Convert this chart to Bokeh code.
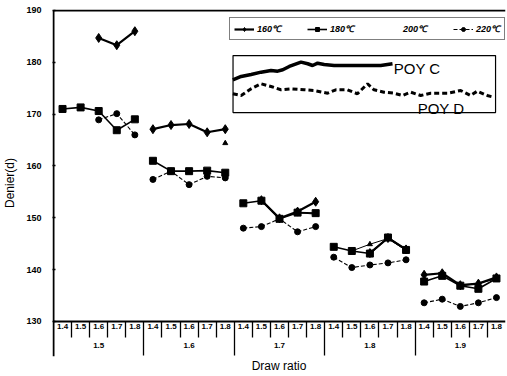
from bokeh.plotting import figure
from bokeh.models import Range1d, LinearAxis, FixedTicker, Legend, LegendItem
from bokeh.embed import file_html
from bokeh.resources import INLINE
from bokeh.core.properties import value

nan = float("nan")

# ---- data -------------------------------------------------------------
draw_ratio_main = ["1.5", "1.6", "1.7", "1.8", "1.9"]
draw_ratio_sub = ["1.4", "1.5", "1.6", "1.7", "1.8"]
y_ticks = [130, 140, 150, 160, 170, 180, 190]

denier_160 = [nan, nan, 184.7, 183.3, 186.0,
              167.1, 167.9, 168.1, 166.5, 167.1,
              nan, 153.4, 149.9, 151.2, 153.1,
              nan, nan, 143.2, 146.1, 143.9,
              139.0, 139.3, 137.0, 137.3, 138.5]
denier_180 = [171.0, 171.3, 170.6, 166.9, 169.0,
              161.0, 159.0, 159.0, 159.1, 158.7,
              152.8, 153.3, 149.8, 151.0, 150.9,
              144.4, 143.6, 143.1, 146.2, 143.8,
              137.7, 138.8, 136.9, 136.3, 138.3]
denier_200 = [nan, nan, nan, nan, nan,
              nan, nan, nan, nan, 164.4,
              nan, nan, nan, 151.0, 150.7,
              nan, 143.6, 144.9, 146.0, 143.7,
              nan, nan, 136.8, 137.4, 138.2]
denier_220 = [nan, nan, 168.9, 170.1, 166.0,
              157.4, 159.0, 156.4, 158.0, 157.7,
              148.0, 148.3, 149.8, 147.3, 148.3,
              142.4, 140.4, 140.9, 141.3, 141.9,
              133.6, 134.3, 132.9, 133.6, 134.6]

# inset picture (POY C / POY D traces), x in axis units (2 per draw-ratio cell)
poy_c_x = [19.84, 20.76, 21.86, 22.96, 24.06, 24.80, 25.36, 26.08, 27.38, 28.12,
           28.66, 29.22, 29.94, 31.04, 32.16, 34.00, 36.20, 37.50]
poy_c_y = [176.63, 177.27, 177.65, 178.10, 178.42, 178.29, 178.56, 179.20, 180.03, 179.72,
           179.39, 179.83, 179.58, 179.39, 179.39, 179.39, 179.39, 179.72]
poy_d_x = [19.84, 20.76, 21.86, 22.96, 24.06, 25.16, 26.26, 27.74, 28.84, 30.32,
           31.24, 32.52, 33.62, 34.74, 35.46, 36.56, 37.68, 38.60, 39.52, 40.62,
           41.72, 43.58, 45.04, 46.14, 46.88, 47.98, 48.70]
poy_d_y = [173.93, 173.60, 174.89, 175.86, 175.34, 174.70, 174.89, 174.70, 174.56, 174.04,
           174.70, 174.70, 173.93, 175.86, 174.70, 174.24, 174.04, 173.60, 174.24, 173.60,
           174.04, 174.04, 174.56, 173.60, 174.43, 173.60, 173.27]
inset_box = dict(left=19.86, right=48.9, top=181.3, bottom=170.3)
poy_labels = ["POY C", "POY D"]
poy_label_x = [37.64, 40.28]
poy_label_y = [178.8, 171.1]

FONT = "Liberation Sans"

# ---- geometry derived from the categories ----------------------------
n_sub = len(draw_ratio_sub)
n_total = len(draw_ratio_main) * n_sub
cell = 2                                   # axis units per sub category
x_centers = [cell * i + cell // 2 for i in range(n_total)]
x_sub_labels = [draw_ratio_sub[i % n_sub] for i in range(n_total)]
grp_centers = [cell * n_sub * g + cell * n_sub // 2 for g in range(len(draw_ratio_main))]
sub_bounds = [cell * i for i in range(1, n_total) if i % n_sub != 0]
grp_bounds = [cell * n_sub * g for g in range(1, len(draw_ratio_main))]
x_end = cell * n_total
x_pad = 0.11                               # about one pixel, keeps the y axis rule visible
y_lo, y_hi = 123.24, 190.19

p = figure(width=507, height=376, x_range=Range1d(-x_pad, x_end),
           y_range=Range1d(y_lo, y_hi),
           output_backend="svg", toolbar_location=None, x_axis_location=None,
           min_border_left=51, min_border_right=2, min_border_top=9, min_border_bottom=20)
p.outline_line_color = None
p.grid.visible = False
p.background_fill_color = "white"
p.border_fill_color = "white"

# y axis
ya = p.yaxis[0]
ya.ticker = FixedTicker(ticks=y_ticks)
ya.major_tick_in = 3
ya.major_tick_out = 0
ya.major_tick_line_color = "black"
ya.major_tick_line_width = 1.5
ya.minor_tick_line_color = None
ya.axis_line_color = None
ya.major_label_text_font = FONT
ya.major_label_text_font_size = "9px"
ya.major_label_text_font_style = "bold"
ya.major_label_text_color = "black"
ya.major_label_standoff = 11
ya.axis_label = "Denier(d)"
ya.axis_label_text_font = FONT
ya.axis_label_text_font_size = "12px"
ya.axis_label_text_font_style = "normal"
ya.axis_label_text_color = "black"
ya.axis_label_standoff = 6

# x axis: sub category labels (drawn at the 130 line)
ax_sub = LinearAxis(fixed_location=y_ticks[0], ticker=FixedTicker(ticks=x_centers),
                    major_label_overrides={c: t for c, t in zip(x_centers, x_sub_labels)})
ax_sub.axis_line_color = None
ax_sub.major_tick_line_color = None
ax_sub.major_tick_out = 0
ax_sub.major_tick_in = 0
ax_sub.minor_tick_line_color = None
ax_sub.major_label_text_font = FONT
ax_sub.major_label_text_font_size = "8px"
ax_sub.major_label_text_font_style = "bold"
ax_sub.major_label_text_color = "black"
ax_sub.major_label_standoff = 3
p.add_layout(ax_sub, "below")

# x axis: group labels
ax_grp = LinearAxis(fixed_location=126.14, ticker=FixedTicker(ticks=grp_centers),
                    major_label_overrides={c: t for c, t in zip(grp_centers, draw_ratio_main)})
ax_grp.axis_line_color = None
ax_grp.major_tick_line_color = None
ax_grp.major_tick_out = 0
ax_grp.major_tick_in = 0
ax_grp.minor_tick_line_color = None
ax_grp.major_label_text_font = FONT
ax_grp.major_label_text_font_size = "8px"
ax_grp.major_label_text_font_style = "bold"
ax_grp.major_label_text_color = "black"
ax_grp.major_label_standoff = 2
p.add_layout(ax_grp, "below")

# boundary ticks between sub categories and between groups
for ticks, length in ((sub_bounds, 16), (grp_bounds, 34)):
    ax = LinearAxis(fixed_location=y_ticks[0], ticker=FixedTicker(ticks=ticks))
    ax.axis_line_color = None
    ax.major_tick_in = 0
    ax.major_tick_out = length
    ax.major_tick_line_color = "black"
    ax.major_tick_line_width = 1.3
    ax.minor_tick_line_color = None
    ax.major_label_text_color = None
    p.add_layout(ax, "below")

# axis title of the x dimension, below the frame
ax_title = LinearAxis(ticker=FixedTicker(ticks=[]), axis_label="Draw ratio")
ax_title.axis_line_color = None
ax_title.major_tick_line_color = None
ax_title.minor_tick_line_color = None
ax_title.major_tick_out = 0
ax_title.major_tick_in = 0
ax_title.major_label_text_color = None
ax_title.axis_label_text_font = FONT
ax_title.axis_label_text_font_size = "12px"
ax_title.axis_label_text_font_style = "normal"
ax_title.axis_label_text_color = "black"
ax_title.axis_label_standoff = 2
p.add_layout(ax_title, "below")

# axis rules: left rule, base line at 130, top border at 190
p.segment(x0=[0, 0, 0], y0=[y_lo, y_ticks[0], y_ticks[-1]],
          x1=[0, x_end, x_end], y1=[y_ticks[-1], y_ticks[0], y_ticks[-1]],
          line_color="black", line_width=2)

# ---- series -----------------------------------------------------------
series = [
    ("160℃", denier_160, "diamond", 9, 2.2, "solid"),
    ("180℃", denier_180, "square", 7, 1.6, "solid"),
    ("200℃", denier_200, "triangle", 5, 1.0, "solid"),
    ("220℃", denier_220, "circle", 6, 1.1, "4 2"),
]
items = []
for label, vals, marker, size, lw, dash in series:
    first = None
    for gi in range(len(draw_ratio_main)):
        xs = x_centers[gi * n_sub:(gi + 1) * n_sub]
        ys = vals[gi * n_sub:(gi + 1) * n_sub]
        rl = p.line(xs, ys, line_color="black", line_width=lw, line_dash=dash)
        rs = p.scatter(xs, ys, marker=marker, size=size, color="black")
        if first is None:
            first = [rl, rs]
    if label == "200℃":
        first = [p.line([], [], line_alpha=0)]
    items.append(LegendItem(label=label, renderers=first))

legend = Legend(items=items, orientation="horizontal", location=(177, 316),
                label_text_font=FONT, label_text_font_size="9px",
                label_text_font_style="bold italic", label_text_color="black",
                border_line_color="black", border_line_width=1.2,
                padding=4, spacing=26, glyph_width=20, glyph_height=10,
                label_standoff=3, margin=0, background_fill_alpha=1)
p.add_layout(legend)

# ---- inset picture ----------------------------------------------------
p.quad(left=[inset_box["left"]], right=[inset_box["right"]], top=[inset_box["top"]],
       bottom=[inset_box["bottom"]], fill_color=None, line_color="black", line_width=1.2)
p.line(poy_c_x, poy_c_y, line_color="black", line_width=3.5)
p.line(poy_d_x, poy_d_y, line_color="black", line_width=3, line_dash="5 3")
p.text(x=poy_label_x, y=poy_label_y, text=poy_labels, text_font=value(FONT),
       text_font_size="15px", text_baseline="middle", text_color="black")

open("out.html", "w").write(file_html(p, INLINE))
